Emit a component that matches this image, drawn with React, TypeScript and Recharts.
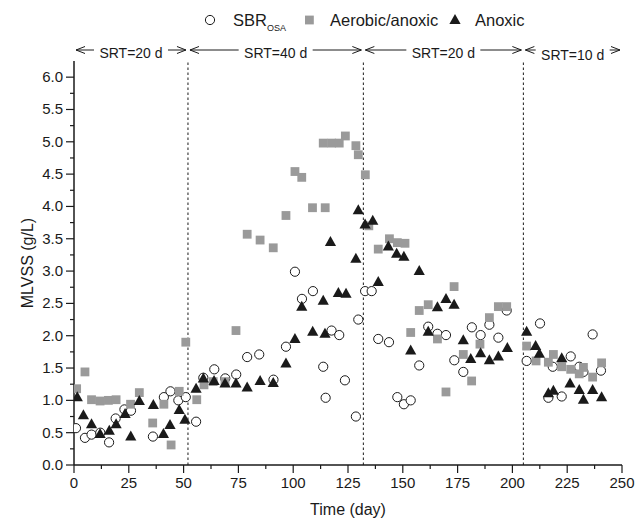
import React from 'react';
import { ScatterChart, Scatter, XAxis, YAxis, ReferenceLine, ReferenceArea } from 'recharts';

// ---------- data ----------
const osaDays = [0.9, 5, 8, 12, 16, 19, 23, 26, 36, 41, 44, 47.6, 51, 55.7, 59, 64, 69, 74, 79, 84.5, 91, 96.7, 100.8, 104, 109, 113.7, 114.8, 117.5, 121, 123.6, 128.6, 129.7, 132.8, 135.8, 138.8, 143.7, 147.5, 150.5, 153.6, 157.5, 161.6, 165.8, 169.7, 173.5, 177.6, 181.5, 185.5, 189.5, 193.6, 197.4, 206.5, 212.6, 216.4, 218.4, 222.5, 226.6, 230.5, 232.4, 236.6, 240.4];
const osaValues = [0.57, 0.42, 0.47, 0.5, 0.35, 0.72, 0.86, 0.84, 0.44, 1.05, 1.14, 1.0, 1.05, 0.67, 1.35, 1.48, 1.34, 1.4, 1.67, 1.71, 1.32, 1.83, 2.99, 2.57, 2.69, 1.52, 1.04, 2.08, 2.01, 1.31, 0.75, 2.25, 2.69, 2.69, 1.95, 1.9, 1.05, 0.94, 1.0, 1.54, 2.14, 2.03, 2.01, 1.62, 1.44, 2.13, 2.01, 2.17, 1.97, 2.39, 1.61, 2.19, 1.04, 1.52, 1.06, 1.68, 1.52, 1.44, 2.02, 1.46];

const aeroDays = [1.2, 5, 8, 11.9, 15.7, 19.2, 25.8, 29.8, 35.9, 41, 44.3, 48, 51, 56, 59.3, 63.5, 68.9, 73.9, 79, 84.9, 90.9, 96.7, 100.8, 103.9, 108.8, 113.7, 114.6, 117.5, 121, 123.8, 128.6, 129.7, 132.9, 134.5, 138.8, 143.9, 147.5, 151, 153.6, 157.5, 161.6, 165.8, 169.7, 173.4, 177.6, 181.4, 185.2, 189.5, 193.6, 197.4, 206.5, 210.8, 216.4, 218.7, 222.5, 226.6, 230.5, 232.4, 236.6, 240.7];
const aeroValues = [1.18, 1.44, 1.01, 0.99, 1.0, 1.01, 0.94, 1.12, 0.65, 0.94, 0.31, 1.14, 1.9, 1.01, 1.24, 1.29, 1.29, 2.08, 3.57, 3.48, 3.36, 3.86, 4.54, 4.45, 3.98, 4.98, 3.98, 4.98, 4.98, 5.09, 4.94, 4.8, 4.49, 3.7, 3.34, 3.5, 3.44, 3.43, 2.05, 2.39, 2.48, 1.95, 1.13, 2.76, 1.71, 1.3, 1.87, 2.28, 2.45, 2.45, 1.84, 1.61, 1.59, 1.71, 1.52, 1.48, 1.41, 1.51, 1.36, 1.58];

const anoxDays = [1.5, 4.3, 8, 11.9, 16.1, 19.2, 23.3, 25.9, 29.8, 36.2, 40.8, 43.8, 48, 50.6, 55.7, 59, 63.9, 68.9, 73.9, 79, 84.9, 90.9, 96.7, 100.8, 103.9, 108.9, 113.7, 114.5, 117, 120.6, 124.1, 128.6, 129.7, 132.8, 136.3, 138.8, 143.4, 147.2, 150.5, 153.6, 157.5, 161.6, 165.8, 169.7, 173.4, 177.6, 181, 185.5, 189.5, 193.6, 197.7, 206.5, 210.6, 212.3, 216.4, 218.7, 222.5, 226.3, 230.5, 232.4, 236.6, 240.7];
const anoxValues = [1.05, 0.77, 0.63, 0.48, 0.53, 0.63, 0.79, 0.44, 0.99, 0.93, 0.48, 0.62, 0.85, 0.7, 1.18, 1.34, 1.3, 1.26, 1.26, 1.2, 1.3, 1.27, 1.57, 1.95, 2.45, 2.06, 2.54, 2.03, 3.45, 2.66, 2.65, 3.19, 3.94, 3.72, 3.78, 2.83, 3.38, 3.27, 3.22, 1.77, 3.0, 2.06, 2.44, 2.57, 2.48, 1.93, 1.64, 1.73, 1.62, 1.68, 1.81, 2.06, 1.84, 1.72, 1.11, 1.15, 1.65, 1.26, 1.16, 1.01, 1.16, 1.05];

const seriesNames = ['SBR', 'Aerobic/anoxic', 'Anoxic'];
const srtBounds = [0, 52, 132, 205, 250];
const srtLabels = ['SRT=20 d', 'SRT=40 d', 'SRT=20 d', 'SRT=10 d'];

const xMajorTicks = [0, 25, 50, 75, 100, 125, 150, 175, 200, 225, 250];
const xAllTicks = [0, 12.5, 25, 37.5, 50, 62.5, 75, 87.5, 100, 112.5, 125, 137.5, 150, 162.5, 175, 187.5, 200, 212.5, 225, 237.5, 250];
const yMajorTicks = [0, 0.5, 1, 1.5, 2, 2.5, 3, 3.5, 4, 4.5, 5, 5.5, 6];
const yAllTicks = [0, 0.25, 0.5, 0.75, 1, 1.25, 1.5, 1.75, 2, 2.25, 2.5, 2.75, 3, 3.25, 3.5, 3.75, 4, 4.25, 4.5, 4.75, 5, 5.25, 5.5, 5.75, 6];
const yRightTicks = [0, 1, 2, 3, 4, 5, 6];

const zip = (xs: number[], ys: number[]) => xs.map((x, i) => ({ day: x, mlvss: ys[i] }));
const osaData = zip(osaDays, osaValues);
const aeroData = zip(aeroDays, aeroValues);
const anoxData = zip(anoxDays, anoxValues);

// ---------- styles ----------
const FONT = '"Liberation Sans", Arial, sans-serif';
const INK = '#1a1a1a';
const GRAY = '#9a9a9a';

const CircleShape = (p: any) => (
  <circle cx={p.cx} cy={p.cy} r={4.6} fill="#fff" stroke={INK} strokeWidth={1} />
);
const SquareShape = (p: any) => (
  <rect x={p.cx - 4.4} y={p.cy - 4.4} width={8.8} height={8.8} fill={GRAY} />
);
const TriShape = (p: any) => (
  <polygon
    points={`${p.cx},${p.cy - 6} ${p.cx - 5.6},${p.cy + 4} ${p.cx + 5.6},${p.cy + 4}`}
    fill={INK}
  />
);

const BottomTick = (p: any) => {
  const { x, y, payload } = p;
  const v = payload.value;
  const major = xMajorTicks.includes(v);
  return (
    <g>
      <line x1={x} y1={y} x2={x} y2={y + (major ? 8 : 4)} stroke={INK} strokeWidth={1.2} />
      {major && (
        <text x={x} y={y + 23} textAnchor="middle" fontSize={15} fontFamily={FONT} fill={INK}>
          {v}
        </text>
      )}
    </g>
  );
};

const LeftTick = (p: any) => {
  const { x, y, payload } = p;
  const v = payload.value;
  const major = yMajorTicks.includes(v);
  return (
    <g>
      <line x1={x} y1={y} x2={x - (major ? 8 : 4)} y2={y} stroke={INK} strokeWidth={1.2} />
      {major && (
        <text x={x - 11} y={y + 5} textAnchor="end" fontSize={15} fontFamily={FONT} fill={INK}>
          {v.toFixed(1)}
        </text>
      )}
    </g>
  );
};

const TopTick = (p: any) => {
  const { x, y } = p;
  return <line x1={x} y1={y} x2={x} y2={y + 4} stroke={INK} strokeWidth={1} />;
};
const RightTick = (p: any) => {
  const { x, y } = p;
  return <line x1={x} y1={y} x2={x - 4} y2={y} stroke={INK} strokeWidth={1} />;
};

const YTitle = (p: any) => {
  const vb = p.viewBox || { x: 14, y: 61, width: 60, height: 404 };
  const cx = vb.x + 13;
  const cy = vb.y + vb.height / 2;
  return (
    <text
      x={cx}
      y={cy}
      transform={`rotate(-90 ${cx} ${cy})`}
      textAnchor="middle"
      dominantBaseline="central"
      fontSize={16}
      fontFamily={FONT}
      fill={INK}
    >
      MLVSS (g/L)
    </text>
  );
};

const XTitle = (p: any) => {
  const vb = p.viewBox || { x: 74, y: 465, width: 548, height: 30 };
  return (
    <text
      x={vb.x + vb.width / 2}
      y={vb.y + 50}
      textAnchor="middle"
      fontSize={16}
      fontFamily={FONT}
      fill={INK}
    >
      Time (day)
    </text>
  );
};

const SrtLabel = (p: any) => {
  const { viewBox, text, dy = 0 } = p;
  if (!viewBox) return null;
  const { x, y, width } = viewBox;
  const cx = x + width / 2;
  const ay = y - 11;
  const tw = 64;
  const left = x + 2;
  const right = x + width - 2;
  const ts = cx - tw / 2 - 5;
  const te = cx + tw / 2 + 5;
  const st = { stroke: INK, strokeWidth: 1, fill: 'none' };
  return (
    <g>
      <line x1={left} y1={ay} x2={ts} y2={ay} {...st} />
      <polyline points={`${left + 9},${ay - 3.5} ${left},${ay} ${left + 9},${ay + 3.5}`} {...st} />
      <line x1={te} y1={ay} x2={right} y2={ay} {...st} />
      <polyline points={`${right - 9},${ay - 3.5} ${right},${ay} ${right - 9},${ay + 3.5}`} {...st} />
      <text x={cx} y={ay + 7.5 + dy} textAnchor="middle" fontSize={14} fontFamily={FONT} fill={INK}>
        {text}
      </text>
    </g>
  );
};

const LegendOverlay = () => (
  <svg
    width={635}
    height={40}
    style={{ position: 'absolute', left: 0, top: 0, pointerEvents: 'none' }}
  >
    <circle cx={210} cy={20} r={4.6} fill="#fff" stroke={INK} strokeWidth={1} />
    <text x={233} y={26} fontSize={16.5} fontFamily={FONT} fill={INK}>
      {seriesNames[0]}
      <tspan dy={5} fontSize={9}>OSA</tspan>
    </text>
    <rect x={305} y={15.6} width={8.8} height={8.8} fill={GRAY} />
    <text x={330} y={26} fontSize={16.5} fontFamily={FONT} fill={INK}>
      {seriesNames[1]}
    </text>
    <polygon points="455,14 449.4,24 460.6,24" fill={INK} />
    <text x={475} y={26} fontSize={16.5} fontFamily={FONT} fill={INK}>
      {seriesNames[2]}
    </text>
  </svg>
);

export default function App() {
  return (
    <div style={{ position: 'absolute', left: 0, top: 0, width: 635, height: 524, background: '#fff' }}>
      <ScatterChart width={635} height={524} margin={{ top: 61, right: 13, bottom: 29, left: 14 }}>
        <XAxis
          xAxisId={0}
          dataKey="day"
          type="number"
          domain={[0, 250]}
          allowDataOverflow
          ticks={xAllTicks}
          interval={0}
          tickSize={0}
          tickMargin={0}
          tickLine={false}
          tick={<BottomTick />}
          height={30}
          axisLine={{ stroke: INK, strokeWidth: 1.5 }}
          label={<XTitle />}
        />
        <XAxis
          xAxisId="top"
          orientation="top"
          type="number"
          domain={[0, 250]}
          allowDataOverflow
          ticks={xMajorTicks}
          interval={0}
          tickSize={0}
          tickMargin={0}
          tickLine={false}
          tick={<TopTick />}
          height={0}
          axisLine={{ stroke: INK, strokeWidth: 1.5 }}
        />
        <YAxis
          yAxisId={0}
          dataKey="mlvss"
          type="number"
          domain={[0, 6.25]}
          allowDataOverflow
          ticks={yAllTicks}
          interval={0}
          tickSize={0}
          tickMargin={0}
          tickLine={false}
          tick={<LeftTick />}
          width={60}
          axisLine={{ stroke: INK, strokeWidth: 1.5 }}
          label={<YTitle />}
        />
        <YAxis
          yAxisId="r"
          orientation="right"
          type="number"
          domain={[0, 6.25]}
          allowDataOverflow
          ticks={yRightTicks}
          interval={0}
          tickSize={0}
          tickMargin={0}
          tickLine={false}
          tick={<RightTick />}
          width={0}
          axisLine={{ stroke: INK, strokeWidth: 1.5 }}
        />
        {srtLabels.map((lab, i) => (
          <ReferenceArea
            key={`srt-${i}`}
            xAxisId={0}
            yAxisId={0}
            x1={srtBounds[i]}
            x2={srtBounds[i + 1]}
            fill="#fff"
            fillOpacity={0}
            stroke="none"
            label={<SrtLabel text={lab} dy={i === 3 ? 2.5 : 0} />}
          />
        ))}
        {srtBounds.slice(1, 4).map((b) => (
          <ReferenceLine
            key={`b-${b}`}
            xAxisId={0}
            yAxisId={0}
            x={b}
            stroke={INK}
            strokeWidth={1}
            strokeDasharray="2.5 2.5"
          />
        ))}
        <Scatter
          name={seriesNames[0]}
          data={osaData}
          xAxisId={0}
          yAxisId={0}
          shape={<CircleShape />}
          isAnimationActive={false}
        />
        <Scatter
          name={seriesNames[1]}
          data={aeroData}
          xAxisId={0}
          yAxisId={0}
          shape={<SquareShape />}
          isAnimationActive={false}
        />
        <Scatter
          name={seriesNames[2]}
          data={anoxData}
          xAxisId={0}
          yAxisId={0}
          shape={<TriShape />}
          isAnimationActive={false}
        />
      </ScatterChart>
      <LegendOverlay />
    </div>
  );
}
